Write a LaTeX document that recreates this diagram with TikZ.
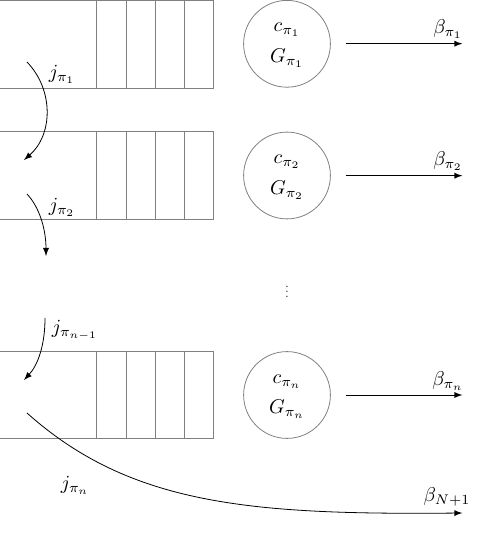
\documentclass[tikz,border=0pt]{standalone}
\begin{document}
\begin{tikzpicture}[x=0.5pt,y=-0.5pt,
  queue/.style={draw=gray,line width=0.4pt},
  server/.style={circle,draw=gray,line width=0.4pt,minimum size=43.4pt,inner sep=0pt},
  flow/.style={-latex,line width=0.4pt,black},
  lbl/.style={inner sep=0pt}]
\useasboundingbox (0,0) rectangle (480,560);
% queues
\foreach \t in {0.4,131.7,351} {
  \draw[queue] (0,\t) -- (213,\t) -- (213,\t+87.6) -- (0,\t+87.6);
  \foreach \x in {96.5,126,155.3,184.3} \draw[queue] (\x,\t) -- (\x,\t+87.6);
}
% servers
\node[server] (s1) at (287,43.8) {};
\node[server] (s2) at (287,175.5) {};
\node[server] (s3) at (287,395) {};
\node[lbl] (c1) at (287,30) {$c_{\pi_1}$};
\node[lbl] (g1) at (287,58) {$G_{\pi_1}$};
\node[lbl] (c2) at (287,162) {$c_{\pi_2}$};
\node[lbl] (g2) at (287,190) {$G_{\pi_2}$};
\node[lbl] (c3) at (287,381.5) {$c_{\pi_n}$};
\node[lbl] (g3) at (287,409) {$G_{\pi_n}$};
\node[lbl,scale=0.6] (dots) at (287,288) {$\vdots$};
% outputs
\coordinate (o1s) at (345.7,43.7);  \coordinate (o1e) at (462.3,43.7);
\coordinate (o2s) at (345.7,175.7); \coordinate (o2e) at (462.3,175.7);
\coordinate (o3s) at (345.7,395);   \coordinate (o3e) at (462.3,395);
\draw[flow] (o1s) -- (o1e);
\draw[flow] (o2s) -- (o2e);
\draw[flow] (o3s) -- (o3e);
\node[lbl] (b1) at (448,29) {$\beta_{\pi_1}$};
\node[lbl] (b2) at (448,161) {$\beta_{\pi_2}$};
\node[lbl] (b3) at (448,381) {$\beta_{\pi_n}$};
\node[lbl] (bN) at (447,496.5) {$\beta_{N+1}$};
% transfers
\coordinate (t1s) at (27,62);  \coordinate (t1e) at (24,160);
\coordinate (t2s) at (27,194); \coordinate (t2e) at (46,256);
\coordinate (t3s) at (45,318); \coordinate (t3e) at (24,380);
\coordinate (t4s) at (27,413); \coordinate (t4e) at (462.3,513);
\draw[flow] (t1s) .. controls (54,90) and (53,135) .. (t1e);
\draw[flow] (t2s) .. controls (40,208) and (46,230) .. (t2e);
\draw[flow] (t3s) .. controls (45,345) and (38,365) .. (t3e);
\draw[flow] (t4s) .. controls (130,505) and (250,515) .. (t4e);
\node[lbl] (j1) at (62,74) {$j_{\pi_1}$};
\node[lbl] (j2) at (62,207) {$j_{\pi_2}$};
\node[lbl] (j3) at (75,330) {$j_{\pi_{n-1}}$};
\node[lbl] (j4) at (75,485) {$j_{\pi_n}$};
\end{tikzpicture}
\end{document}
